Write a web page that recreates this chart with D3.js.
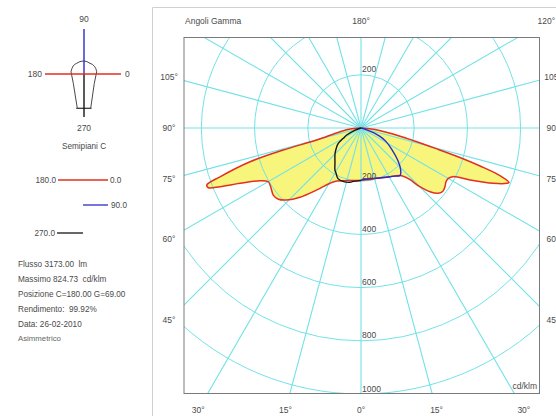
<!DOCTYPE html>
<html><head><meta charset="utf-8">
<script src="https://cdn.jsdelivr.net/npm/d3@7"></script>
<style>
body{margin:0;background:#fff}
svg{display:block}
text{font-family:"Liberation Sans",Arial,sans-serif;fill:#4a4a4a;white-space:pre}
</style>
</head><body><svg id="c" width="556" height="416"></svg>
<script>
// ---------- data (cd/klm vs gamma angle, degrees; 0 = nadir) ----------
const gammaC0   = [0, 10, 17.3, 25, 30.8, 35, 39.7, 42, 43.5, 45, 47.3, 49.8, 52.1, 55.1, 57.7, 60, 62.2, 64.5, 67.3, 69.2, 69.8, 71.1, 72.3, 73.4, 74.6, 76.5, 79.4, 83.9, 90];
const valuesC0  = [196, 197, 198, 204, 213, 220, 232, 248, 268, 310, 353, 380, 389, 385, 378, 379, 392, 454, 539, 586, 593, 552, 470, 388, 296, 201, 122, 53, 0];
const gammaC180  = [0, 15.2, 24.6, 29.3, 35.5, 41.4, 45.9, 49.2, 52.6, 57.0, 59.9, 62.4, 65.4, 67.4, 68.6, 69.7, 70.9, 73.1, 74.2, 74.8, 80.0, 85, 90];
const valuesC180 = [196, 205, 219, 238, 286, 347, 389, 410, 415, 405, 403, 428, 500, 574, 616, 618, 561, 436, 304, 173, 80, 35, 0];
const gammaC90   = [0, 10, 17.3, 27.5, 30.8, 35, 39.5, 43.4, 48.4, 55.3, 62, 66, 69.5, 73, 76];
const valuesC90  = [196, 193, 198, 209, 213, 221, 231, 217, 186, 140, 105, 78, 52, 20, 0];
const gammaC270  = [0, 8.4, 11.4, 17, 24.5, 28.9, 31.8, 36.4, 42.2, 45.8, 52.4, 56, 59.8, 63.9, 70, 75];
const valuesC270 = [198, 203, 208, 212, 209, 194, 186, 165, 146, 136, 115, 103, 77, 60, 25, 0];

const circleValues = [200, 400, 600, 800, 1000, 1200];
const spokeAngles  = [0, 15, 30, 45, 60, 75, 90, 105, 120, 135, 150, 165, 180];
const bottomLabels = [0, 15, 30];
const sideLabels   = [45, 60, 75, 90, 105];
const infoLines = ["Flusso 3173.00  lm", "Massimo 824.73  cd/klm", "Posizione C=180.00 G=69.00",
                   "Rendimento:  99.92%", "Data: 26-02-2010", "Asimmetrico"];
const planeLabels = ["90", "0", "270", "180"];
const legendLabels = ["180.0", "0.0", "90.0", "270.0"];

// ---------- layout ----------
const svg = d3.select("#c");
const cx = 361, cy = 128;
const fr = {x0: 184, y0: 37.5, x1: 539.5, y1: 393.5};
const rScale = d3.scaleLinear().domain([0, 1000]).range([0, 266]);
const RED = "#e2301e", BLUE = "#2a2ac8", BLACK = "#151515", CYAN = "#72e2e8", YEL = "#f8f57c";
const rad = Math.PI / 180;

// outer frame
svg.append("path").attr("d", "M152.5,416 V7.5 H556").attr("fill", "none").attr("stroke", "#d0d0d0").attr("stroke-width", 1);

svg.append("defs").append("clipPath").attr("id", "clip")
  .append("rect").attr("x", fr.x0).attr("y", fr.y0).attr("width", fr.x1 - fr.x0).attr("height", fr.y1 - fr.y0);

const plot = svg.append("g").attr("clip-path", "url(#clip)");
const g = plot.append("g").attr("transform", `translate(${cx},${cy})`);

function pts(gam, vals, side) {
  return gam.map((a, i) => ({a: side > 0 ? Math.PI - a * rad : Math.PI + a * rad, v: vals[i]}));
}
const line = d3.lineRadial().angle(d => d.a).radius(d => rScale(d.v)).curve(d3.curveCatmullRom.alpha(0.5));
const lineClosed = d3.lineRadial().angle(d => d.a).radius(d => rScale(d.v)).curve(d3.curveCatmullRomClosed.alpha(0.5));

// C0-C180 closed outline
const right = pts(gammaC0, valuesC0, 1);
const left = pts(gammaC180, valuesC180, -1).reverse();
const ring = right.concat(left.slice(1, left.length - 1));

// fill
g.append("path").attr("d", lineClosed(ring)).attr("fill", YEL).attr("stroke", "none");

// grid circles
g.selectAll("circle.grid").data(circleValues).join("circle")
  .attr("r", d => rScale(d)).attr("fill", "none").attr("stroke", CYAN).attr("stroke-width", 1);
// spokes
spokeAngles.forEach(a => {
  [1, -1].forEach(s => {
    if (s < 0 && (a === 0 || a === 180)) return;
    const p = pts([a], [1400], s)[0];
    const R = rScale(p.v);
    g.append("line").attr("x1", 0).attr("y1", 0)
      .attr("x2", R * Math.sin(p.a)).attr("y2", -R * Math.cos(p.a))
      .attr("stroke", CYAN).attr("stroke-width", 1.1);
  });
});

// curves
g.append("path").attr("d", lineClosed(ring)).attr("fill", "none").attr("stroke", RED).attr("stroke-width", 1.5);
g.append("path").attr("d", line(pts(gammaC270, valuesC270, -1))).attr("fill", "none").attr("stroke", BLACK).attr("stroke-width", 1.4);
g.append("path").attr("d", line(pts(gammaC90, valuesC90, 1))).attr("fill", "none").attr("stroke", BLUE).attr("stroke-width", 1.4);

// circle value labels (only those inside the frame)
circleValues.forEach(v => {
  [-1, 1].forEach(s => {
    const y = cy + s * rScale(v) - 2.5;
    if (y - 7 < fr.y0 || y > fr.y1) return;
    svg.append("text").attr("x", cx + 1).attr("y", y)
      .attr("font-size", 8.5).text(v);
  });
});

// frame
svg.append("rect").attr("x", fr.x0).attr("y", fr.y0).attr("width", fr.x1 - fr.x0).attr("height", fr.y1 - fr.y0)
  .attr("fill", "none").attr("stroke", "#7a7a7a").attr("stroke-width", 1);

// gamma labels
const LB = {l: 169, r: 553, t: 21, b: 410};
function labelPos(a, s) {
  const dx = s * Math.sin(a * rad), dy = Math.cos(a * rad);
  let t = Infinity;
  if (Math.abs(dx) > 1e-6) t = Math.min(t, dx > 0 ? (LB.r - cx) / dx : (LB.l - cx) / dx);
  if (Math.abs(dy) > 1e-6) t = Math.min(t, dy > 0 ? (LB.b - cy) / dy : (LB.t - cy) / dy);
  return [cx + t * dx, cy + t * dy];
}
const labs = [];
bottomLabels.forEach(a => { labs.push([a, 1]); if (a !== 0) labs.push([a, -1]); });
sideLabels.forEach(a => { labs.push([a, 1]); labs.push([a, -1]); });
labs.push([180, 1]); labs.push([120, 1]);
labs.forEach(([a, s]) => {
  const [x, y] = labelPos(a, s);
  svg.append("text").attr("x", x).attr("y", y).attr("dy", "0.35em").attr("text-anchor", "middle")
    .attr("font-size", 8.5).text(a + "°");
});
svg.append("text").attr("x", 185).attr("y", 21).attr("dy", "0.35em").attr("font-size", 8.5).text("Angoli Gamma");
svg.append("text").attr("x", 537).attr("y", 389).attr("text-anchor", "end").attr("font-size", 8.5).text("cd/klm");

// ---------- left panel ----------
const ic = {x: 84, y: 74};
svg.append("path")
  .attr("d", `M77.3,108.3 L73.3,83.3 L71,71.7 Q72.5,64.5 76.7,63.3 Q80,61 83.3,61 Q87,61 90,63.3 Q95.5,65 96.7,71.7 L94.3,83.3 L90.7,108.3 Z M76,108.3 H91.7`)
  .attr("fill", "none").attr("stroke", "#333").attr("stroke-width", 0.9);
svg.append("line").attr("x1", ic.x).attr("y1", 29).attr("x2", ic.x).attr("y2", ic.y).attr("stroke", BLUE).attr("stroke-width", 1.4);
svg.append("line").attr("x1", ic.x).attr("y1", ic.y).attr("x2", ic.x).attr("y2", 117).attr("stroke", BLACK).attr("stroke-width", 1.4);
svg.append("line").attr("x1", 45).attr("y1", ic.y).attr("x2", 121).attr("y2", ic.y).attr("stroke", RED).attr("stroke-width", 1.4);
svg.append("text").attr("x", ic.x).attr("y", 19).attr("dy", "0.35em").attr("text-anchor", "middle").attr("font-size", 8.5).text(planeLabels[0]);
svg.append("text").attr("x", 125).attr("y", ic.y).attr("dy", "0.35em").attr("font-size", 8.5).text(planeLabels[1]);
svg.append("text").attr("x", ic.x).attr("y", 128).attr("dy", "0.35em").attr("text-anchor", "middle").attr("font-size", 8.5).text(planeLabels[2]);
svg.append("text").attr("x", 42).attr("y", ic.y).attr("dy", "0.35em").attr("text-anchor", "end").attr("font-size", 8.5).text(planeLabels[3]);
svg.append("text").attr("x", ic.x).attr("y", 146).attr("dy", "0.35em").attr("text-anchor", "middle").attr("font-size", 8.2).text("Semipiani C");

// legend
svg.append("line").attr("x1", 58).attr("y1", 180).attr("x2", 108).attr("y2", 180).attr("stroke", RED).attr("stroke-width", 1.3);
svg.append("text").attr("x", 56).attr("y", 180).attr("dy", "0.35em").attr("text-anchor", "end").attr("font-size", 8.2).text(legendLabels[0]);
svg.append("text").attr("x", 110).attr("y", 180).attr("dy", "0.35em").attr("font-size", 8.2).text(legendLabels[1]);
svg.append("line").attr("x1", 83).attr("y1", 205).attr("x2", 108).attr("y2", 205).attr("stroke", BLUE).attr("stroke-width", 1.3);
svg.append("text").attr("x", 111).attr("y", 205).attr("dy", "0.35em").attr("font-size", 8.2).text(legendLabels[2]);
svg.append("line").attr("x1", 57).attr("y1", 233).attr("x2", 83).attr("y2", 233).attr("stroke", BLACK).attr("stroke-width", 1.3);
svg.append("text").attr("x", 55).attr("y", 233).attr("dy", "0.35em").attr("text-anchor", "end").attr("font-size", 8.2).text(legendLabels[3]);

// info text
const infoY = [264, 279, 294, 309, 324, 338];
infoLines.forEach((t, i) => {
  svg.append("text").attr("x", 18).attr("y", infoY[i]).attr("dy", "0.35em")
    .attr("font-size", i === infoLines.length - 1 ? 7.8 : 8.2)
    .style("fill", i === infoLines.length - 1 ? "#666" : "#4a4a4a").text(t);
});
</script>
</body></html>
